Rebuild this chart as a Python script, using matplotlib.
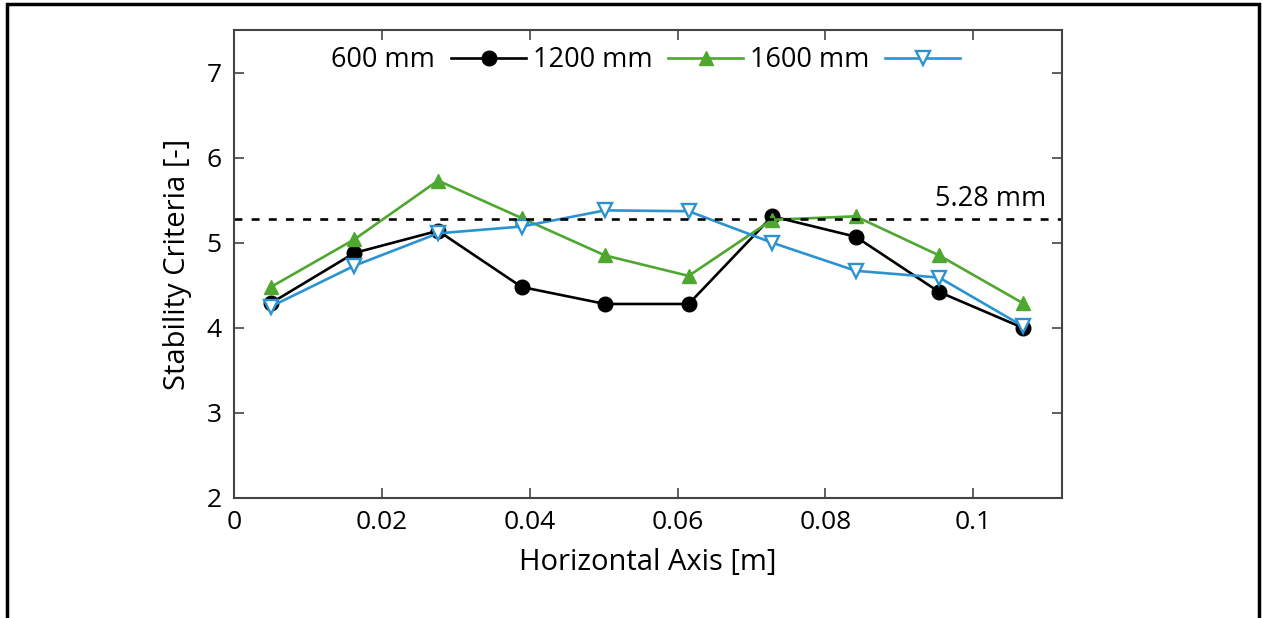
import matplotlib
matplotlib.use('Agg')
import matplotlib.pyplot as plt
import matplotlib.patches as patches

plt.rcParams['font.family'] = ['Open Sans', 'DejaVu Sans']

# data
x_pos = [0.0050, 0.0163, 0.0276, 0.0389, 0.0502, 0.0615, 0.0728, 0.0841, 0.0954, 0.1067]
y_600 = [4.29, 4.88, 5.14, 4.48, 4.28, 4.28, 5.31, 5.07, 4.42, 4.00]
y_1200 = [4.48, 5.04, 5.73, 5.29, 4.85, 4.61, 5.27, 5.31, 4.85, 4.29]
y_1600 = [4.25, 4.73, 5.11, 5.19, 5.38, 5.37, 5.00, 4.67, 4.59, 4.02]
labels = ['600 mm', '1200 mm', '1600 mm']
limit = 5.28
x_ticks = [0, 0.02, 0.04, 0.06, 0.08, 0.1]
x_ticklabels = ['0', '0.02', '0.04', '0.06', '0.08', '0.1']
y_ticks = [2, 3, 4, 5, 6, 7]

FS = 19

fig = plt.figure(figsize=(12.62, 6.18), dpi=100)
ax = fig.add_axes([0.1854, 0.1942, 0.8415 - 0.1854, 0.9515 - 0.1942])

ax.plot(x_pos, y_600, color='black', marker='o', markersize=10.5, linewidth=1.9, label=labels[0])
ax.plot(x_pos, y_1200, color='#4ea72e', marker='^', markersize=10.5, linewidth=1.9, label=labels[1])
ax.plot(x_pos, y_1600, color='#2a93d0', marker='v', markersize=9.5, markerfacecolor='white',
        markeredgewidth=1.7, linewidth=1.9, label=labels[2])

ax.axhline(limit, color='black', linestyle=(0, (3, 3.5)), linewidth=1.9)
ax.text(0.1099, limit + 0.07, '5.28 mm', ha='right', va='bottom', fontsize=FS + 0.5)

ax.set_xlim(0, 0.112)
ax.set_ylim(2, 7.5)
ax.set_xticks(x_ticks)
ax.set_xticklabels(x_ticklabels)
ax.set_yticks(y_ticks)
ax.tick_params(direction='in', top=True, right=True, length=7, width=1.2,
               labelsize=FS, pad=9, color='#444444')
for s in ax.spines.values():
    s.set_linewidth(1.5)
    s.set_color('#444444')

ax.set_xlabel('Horizontal Axis [m]', fontsize=FS + 2, labelpad=9)
ax.set_ylabel('Stability Criteria [-]', fontsize=FS + 2, labelpad=10)

ax.legend(loc='upper center', ncol=3, frameon=False, markerfirst=False,
          fontsize=FS + 0.5, handlelength=2.75, columnspacing=0.25, handletextpad=0.6,
          borderaxespad=0.2, bbox_to_anchor=(0.497, 1.0))

# outer frame around the figure
frame = patches.Rectangle((7 / 1262, -0.1), (1259 - 7) / 1262, 1 - 4 / 618 + 0.1,
                          transform=fig.transFigure, fill=False, edgecolor='black',
                          linewidth=2.5, clip_on=False)
fig.patches.append(frame)

fig.savefig('out.png', dpi=100)
